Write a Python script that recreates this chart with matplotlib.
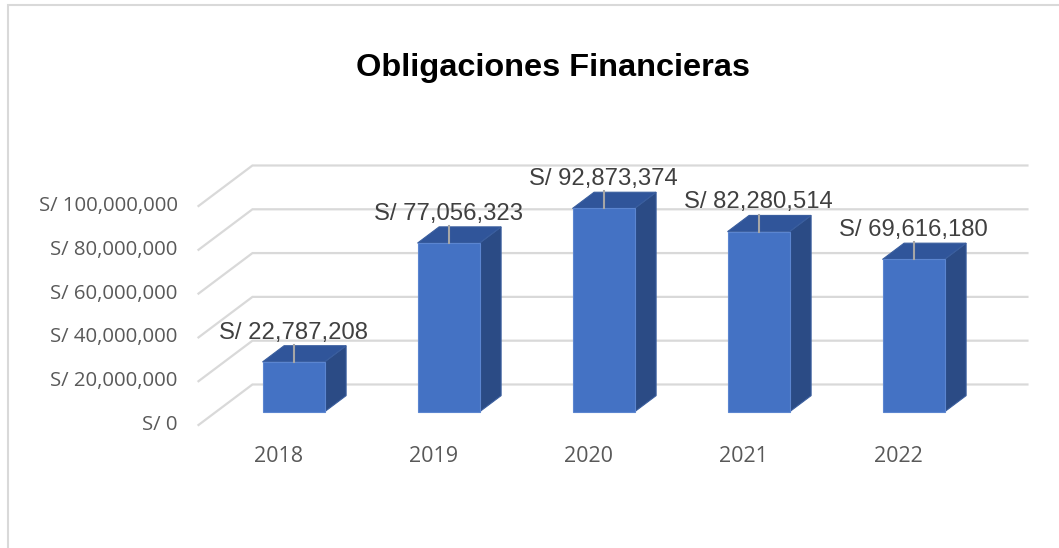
import numpy as np
import matplotlib.pyplot as plt
from matplotlib.patches import Polygon, Rectangle

# data
years = ['2018', '2019', '2020', '2021', '2022']
values = [22787208, 77056323, 92873374, 82280514, 69616180]
grid_values = [0, 20000000, 40000000, 60000000, 80000000, 100000000]
tick_labels = ['S/ 0', 'S/ 20,000,000', 'S/ 40,000,000', 'S/ 60,000,000',
               'S/ 80,000,000', 'S/ 100,000,000']

# oblique "3d" projection: one unit of depth moves right by DX categories and up by DY
DX = 0.348
DY = 18.5e6
bar_w = 0.4
d_front, d_back = 0.325, 0.725

c_front = '#4472C4'
c_top = '#30559A'
c_side = '#2B4B85'
c_grid = '#D9D9D9'


def proj(x, v, d):
    return (x + d * DX, v + d * DY)


fig = plt.figure(figsize=(10.59, 5.48), dpi=100)
ax = fig.add_axes([0, 0, 1, 1])
ax.set_xlim(-276 / 155, (1059 - 276) / 155)
ax.set_ylim((425 - 548) / 2.19e-6, 425 / 2.19e-6)
ax.axis('off')

# frame of the chart area
fig.patches.append(Rectangle((8 / 1059, -0.1), 1.2, (548 - 5) / 548 + 0.1,
                             transform=fig.transFigure, fill=False,
                             edgecolor='#D9D9D9', linewidth=1.5))

# walls: side wall diagonals and back wall lines
for g, lab in zip(grid_values, tick_labels):
    x0, y0 = proj(-0.5, g, 0)
    x1, y1 = proj(-0.5, g, 1)
    x2, y2 = proj(4.5, g, 1)
    ax.plot([x0, x1, x2], [y0, y1, y2], color=c_grid, lw=1.6, zorder=1,
            solid_joinstyle='miter')
    ax.annotate(lab, (x0, y0), xytext=(-15, 0), textcoords='offset points',
                ha='right', va='center', fontsize=14.7, color='#595959',
                family='Open Sans')

# bars
for i, (yr, v) in enumerate(zip(years, values)):
    l, r = i - bar_w / 2, i + bar_w / 2
    front = [proj(l, 0, d_front), proj(r, 0, d_front), proj(r, v, d_front), proj(l, v, d_front)]
    top = [proj(l, v, d_front), proj(r, v, d_front), proj(r, v, d_back), proj(l, v, d_back)]
    side = [proj(r, 0, d_front), proj(r, 0, d_back), proj(r, v, d_back), proj(r, v, d_front)]
    ax.add_patch(Polygon(side, closed=True, facecolor=c_side, edgecolor='#3A5E9E', lw=0.8, zorder=3))
    ax.add_patch(Polygon(top, closed=True, facecolor=c_top, edgecolor='#3A5E9E', lw=0.8, zorder=3))
    ax.add_patch(Polygon(front, closed=True, facecolor=c_front, edgecolor='#5B85D0', lw=0.8, zorder=4))

    # leader line and value label
    xf, yf = proj(i, v, d_front)
    xb, yb = proj(i, v, d_back)
    ax.plot([xf, xf], [yf, yb + 0.4e6], color='#A6A6A6', lw=1.5, zorder=5)
    ax.annotate('S/ {:,}'.format(v), (xf, yb), xytext=(0, 5), textcoords='offset points',
                ha='center', va='baseline', fontsize=17.2, color='#404040',
                family='Liberation Sans', zorder=6)

    # category label on the front edge of the floor
    xc, yc = proj(i, 0, 0)
    ax.annotate(yr, (xc + 0.015, yc), xytext=(0, -23), textcoords='offset points',
                ha='center', va='center', fontsize=15.5, color='#595959',
                family='Open Sans')

fig.text(553 / 1059, 1 - 68 / 548, 'Obligaciones Financieras', ha='center', va='center',
         fontsize=23.4, fontweight='bold', family='Liberation Sans', color='black')

fig.savefig('out.png', dpi=100)
